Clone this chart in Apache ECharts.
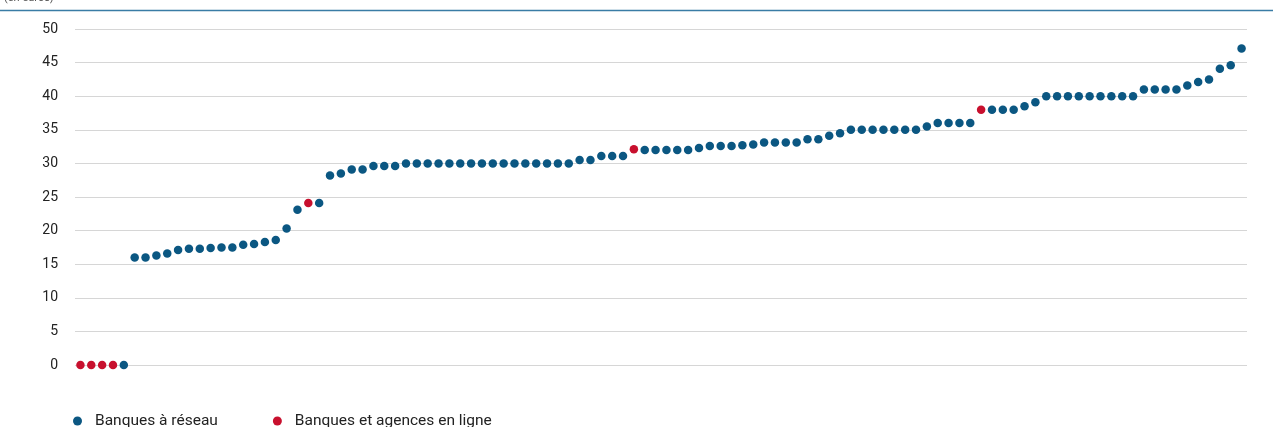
<!DOCTYPE html>
<html>
<head>
<meta charset="utf-8">
<script src="https://cdn.jsdelivr.net/npm/echarts@6/dist/echarts.min.js"></script>
<style>html,body{margin:0;padding:0;background:#fff}#c{width:1273px;height:427px}</style>
</head>
<body>
<div id="c"></div>
<script>
const seriesNames = ['Banques à réseau', 'Banques et agences en ligne'];
const unitLabel = '(en euros)';
const yTicks = [0, 5, 10, 15, 20, 25, 30, 35, 40, 45, 50];
// fee per bank, sorted ascending
const values = [
  0, 0, 0, 0, 0,
  16, 16, 16.3, 16.6, 17.1, 17.3, 17.3, 17.4, 17.5, 17.5, 17.9, 18, 18.3, 18.6, 20.3,
  23.1, 24.1, 24.1, 28.2, 28.5, 29.1, 29.1, 29.6, 29.6, 29.6,
  30, 30, 30, 30, 30, 30, 30, 30, 30, 30, 30, 30, 30, 30, 30, 30,
  30.5, 30.5, 31.1, 31.1, 31.1, 32.1, 32, 32, 32, 32, 32, 32.3, 32.6, 32.6, 32.6, 32.7, 32.8,
  33.1, 33.1, 33.1, 33.1, 33.6, 33.6, 34.1, 34.5,
  35, 35, 35, 35, 35, 35, 35, 35.5, 36, 36, 36, 36,
  38, 38, 38, 38, 38.5, 39.1,
  40, 40, 40, 40, 40, 40, 40, 40, 40,
  41, 41, 41, 41, 41.6, 42.1, 42.5, 44.1, 44.6, 47.1
];
// 1-based positions of online banks
const onlinePositions = [1, 2, 3, 4, 22, 52, 84];

const categories = values.map((v, i) => String(i + 1));
const networkData = values.map((v, i) => onlinePositions.includes(i + 1) ? null : v);
const onlineData = values.map((v, i) => onlinePositions.includes(i + 1) ? v : null);

const blue = '#0b5782';
const red = '#c8102e';
const font = 'Roboto, "Liberation Sans", sans-serif';

const chart = echarts.init(document.getElementById('c'), null, {renderer: 'canvas'});
chart.setOption({
  animation: false,
  textStyle: {fontFamily: font},
  grid: {left: 75, right: 26, top: 29, bottom: 62, containLabel: false},
  xAxis: {
    type: 'category', data: categories, boundaryGap: true,
    axisLine: {show: false}, axisTick: {show: false}, axisLabel: {show: false}, splitLine: {show: false}
  },
  yAxis: {
    type: 'value', min: yTicks[0], max: yTicks[yTicks.length - 1], interval: 5,
    axisLine: {show: false}, axisTick: {show: false},
    axisLabel: {color: '#222', fontSize: 14, margin: 17, fontFamily: font},
    splitLine: {lineStyle: {color: '#d6d6d6', width: 1}}
  },
  legend: {
    left: 68, top: 408, itemWidth: 9, itemHeight: 9, itemGap: 55,
    icon: 'circle',
    textStyle: {color: '#222', fontSize: 15.5, fontFamily: font, padding: [0, 0, 0, 8]},
    data: seriesNames
  },
  graphic: [
    {type: 'line', shape: {x1: 0, y1: 10.5, x2: 1273, y2: 10.5}, style: {stroke: '#3a7ca5', lineWidth: 1.5}},
    {type: 'text', left: 4, top: -7, style: {text: unitLabel, fontSize: 11, fill: '#555', fontFamily: font}}
  ],
  series: [
    {name: seriesNames[0], type: 'scatter', data: networkData, symbolSize: 8.5, itemStyle: {color: blue, opacity: 1}},
    {name: seriesNames[1], type: 'scatter', data: onlineData, symbolSize: 8.5, itemStyle: {color: red, opacity: 1}}
  ]
});
</script>
</body>
</html>
